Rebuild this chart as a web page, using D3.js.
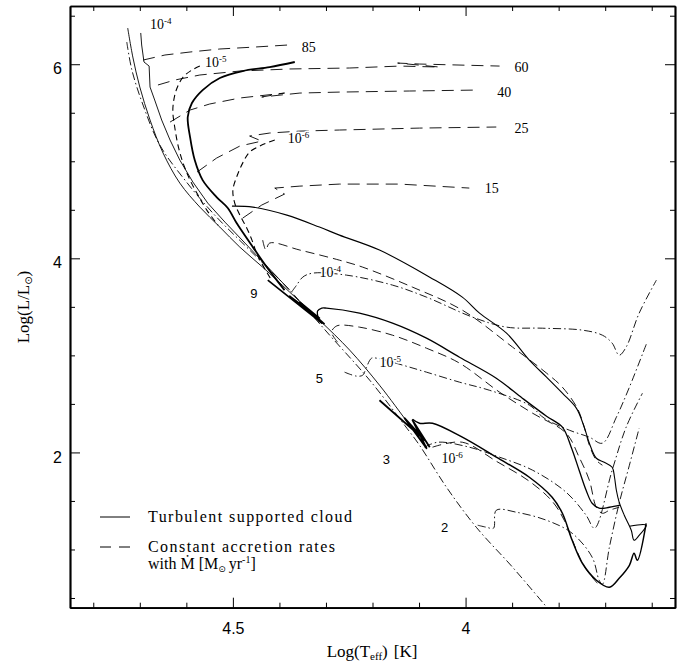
<!DOCTYPE html>
<html>
<head>
<meta charset="utf-8">
<script src="https://cdn.jsdelivr.net/npm/d3@7"></script>
<style>
  body { margin: 0; background: #fff; }
  text { fill: #000; }
</style>
</head>
<body>
<script>
// Values: [log Teff, log L/Lsun]

// ZAMS bundle and birthline-ish envelopes
const zams = [[4.726,6.373],[4.715,6.074],[4.700,5.765],[4.678,5.425],[4.650,5.085],[4.614,4.775],[4.571,4.528],[4.528,4.322],[4.485,4.115],[4.436,3.909],[4.378,3.652],[4.314,3.363],[4.249,3.054],[4.185,2.693],[4.120,2.280],[4.084,2.054]];
const birthline4 = [[4.698,6.322],[4.696,6.198],[4.691,6.023],[4.680,5.981],[4.678,5.765],[4.668,5.631],[4.653,5.425],[4.635,5.219],[4.614,5.012],[4.586,4.786],[4.554,4.569],[4.517,4.373],[4.474,4.157],[4.425,3.909],[4.378,3.672]];
const zamsLow = [[4.728,6.229],[4.717,5.940],[4.693,5.579],[4.657,5.167],[4.603,4.806],[4.539,4.445],[4.464,4.085],[4.378,3.672],[4.292,3.208],[4.206,2.744],[4.131,2.280],[4.099,2.074],[4.041,1.641],[3.977,1.229],[3.899,0.817],[3.820,0.373]];

// turbulent supported cloud tracks (solid)
const turb1 = [[4.367,6.023],[4.421,5.971],[4.479,5.930],[4.528,5.858],[4.565,5.734],[4.588,5.600],[4.597,5.456],[4.592,5.249],[4.582,5.012],[4.565,4.806],[4.535,4.631],[4.511,4.518],[4.492,4.363],[4.457,4.115],[4.427,3.909],[4.389,3.672]];
const turb2 = [[4.502,4.538],[4.457,4.528],[4.384,4.445],[4.314,4.322],[4.271,4.239],[4.185,4.085],[4.077,3.806],[4.007,3.600],[3.970,3.435],[3.912,3.229],[3.863,2.951],[3.826,2.775],[3.792,2.610],[3.762,2.456],[3.745,2.260],[3.734,2.095],[3.719,1.940],[3.702,1.899],[3.685,1.847],[3.680,1.744],[3.676,1.610],[3.670,1.487],[3.659,1.353],[3.644,1.198],[3.638,1.095],[3.627,1.146],[3.612,1.250],[3.648,1.239]];
const turb3 = [[4.314,3.342],[4.318,3.456],[4.309,3.487],[4.299,3.487],[4.228,3.435],[4.157,3.332],[4.084,3.177],[4.013,2.981],[3.934,2.765],[3.878,2.559],[3.826,2.373],[3.792,2.260],[3.773,2.054],[3.756,1.817],[3.741,1.610],[3.728,1.476],[3.713,1.425],[3.691,1.435],[3.668,1.456]];
const turb4 = [[4.114,2.342],[4.099,2.301],[4.071,2.301],[4.007,2.157],[3.934,1.951],[3.863,1.744],[3.814,1.538],[3.792,1.373],[3.771,1.095],[3.749,0.858],[3.719,0.683],[3.691,0.610],[3.670,0.703],[3.648,0.837],[3.638,0.961],[3.631,0.889],[3.612,1.270]];
const zig9 = [[4.425,3.775],[4.309,3.332],[4.378,3.610],[4.314,3.384],[4.356,3.548],[4.303,3.322]];
const zig3 = [[4.185,2.538],[4.088,2.126],[4.131,2.353],[4.084,2.043],[4.114,2.332],[4.077,2.054]];

// massive star tracks (long dashes)
const m85 = [[4.693,6.043],[4.646,6.095],[4.592,6.126],[4.528,6.157],[4.453,6.177],[4.382,6.198]];
const m60 = [[4.661,5.786],[4.625,5.837],[4.571,5.889],[4.485,5.930],[4.378,5.951],[4.249,5.961],[4.142,5.981],[4.056,5.971],[4.146,6.012],[4.099,6.002],[3.927,5.981]];
const m40 = [[4.635,5.404],[4.592,5.528],[4.550,5.590],[4.485,5.652],[4.389,5.703],[4.438,5.662],[4.356,5.703],[4.271,5.713],[4.120,5.724],[3.974,5.734]];
const m25 = [[4.577,4.889],[4.535,5.033],[4.485,5.157],[4.438,5.208],[4.464,5.260],[4.421,5.291],[4.356,5.311],[4.271,5.322],[4.099,5.342],[3.934,5.353]];
const m15 = [[4.479,4.414],[4.438,4.549],[4.389,4.662],[4.410,4.724],[4.356,4.744],[4.271,4.765],[4.142,4.765],[3.992,4.724]];

// constant accretion birthlines (short dashes)
const birth5 = [[4.571,5.981],[4.588,5.940],[4.607,5.868],[4.620,5.755],[4.627,5.631],[4.629,5.507],[4.625,5.353],[4.618,5.167],[4.607,4.981],[4.592,4.806],[4.575,4.652],[4.556,4.497],[4.532,4.342]];
const birth6 = [[4.410,5.219],[4.438,5.167],[4.464,5.095],[4.479,4.981],[4.492,4.837],[4.500,4.703],[4.496,4.569],[4.485,4.445],[4.470,4.311],[4.459,4.188],[4.449,4.054],[4.436,3.930],[4.417,3.775]];

// intermediate mass tracks (dashed)
const dash9 = [[4.436,4.188],[4.429,4.085],[4.421,4.157],[4.356,4.085],[4.271,3.981],[4.221,3.909],[4.114,3.703],[4.007,3.466],[3.899,3.085],[3.826,2.817],[3.792,2.672],[3.760,2.456],[3.745,2.260],[3.734,2.074],[3.719,1.920],[3.706,1.868]];
const dash5 = [[4.275,3.136],[4.288,3.239],[4.281,3.291],[4.271,3.311],[4.228,3.291],[4.157,3.208],[4.084,3.074],[4.013,2.920],[3.927,2.621],[3.856,2.404],[3.784,2.198],[3.756,1.951],[3.734,1.713],[3.719,1.435],[3.706,1.373],[3.691,1.404],[3.670,1.435]];
const dash3 = [[4.071,2.054],[4.007,2.105],[3.934,1.909],[3.863,1.703],[3.814,1.497],[3.788,1.301],[3.766,1.043],[3.745,0.827],[3.717,0.652]];

// dash-dot tracks
const dotted4 = [[4.374,3.652],[4.363,3.724],[4.350,3.806],[4.329,3.847],[4.256,3.827],[4.157,3.724],[4.084,3.600],[3.985,3.394],[3.912,3.291],[3.835,3.280],[3.749,3.260],[3.706,3.208],[3.685,3.126],[3.670,3.002],[3.655,3.085],[3.627,3.435],[3.590,3.775]];
const dotted5 = [[4.260,2.827],[4.234,2.786],[4.221,2.796],[4.213,2.878],[4.202,2.971],[4.191,2.971],[4.135,2.899],[4.084,2.827],[4.013,2.724],[3.949,2.641],[3.863,2.487],[3.831,2.353],[3.777,2.229],[3.734,2.157],[3.706,2.095],[3.676,2.363],[3.648,2.672],[3.610,3.136]];
const dotted6 = [[4.088,2.054],[4.060,2.105],[3.992,2.054],[3.927,1.951],[3.856,1.817],[3.784,1.590],[3.741,1.353],[3.723,1.219],[3.685,1.817],[3.655,2.260],[3.620,2.610]];
const dotted2 = [[3.974,1.250],[3.955,1.229],[3.940,1.219],[3.934,1.404],[3.891,1.384],[3.826,1.301],[3.771,1.167],[3.728,0.920],[3.713,0.683],[3.706,0.641],[3.691,1.023],[3.670,1.476],[3.648,1.868],[3.627,2.250]];

// labels: text, log Teff, log L
const massLabels = [["85",4.352,6.126],["60",3.895,5.920],["40",3.932,5.662],["25",3.895,5.291],["15",3.959,4.672]];
const lowMassLabels = [["9",4.455,3.590],["5",4.314,2.713],["3",4.170,1.878],["2",4.045,1.177]];
const rateLabels = [["-4",4.678,6.363],["-5",4.560,5.971],["-6",4.382,5.188],["-4",4.314,3.806],["-5",4.185,2.878],["-6",4.052,1.889]];

// ticks
const xMajorTicks = [4.5, 4.0];
const xMinorTicks = [4.8, 4.7, 4.6, 4.4, 4.3, 4.2, 4.1, 3.9, 3.8, 3.7, 3.6];
const yMajorTicks = [2, 4, 6];
const yMinorTicks = [0.5, 1, 1.5, 2.5, 3, 3.5, 4.5, 5, 5.5, 6.5];

const W = 677, H = 664;
const x = d3.scaleLinear().domain([4.85, 3.55]).range([70, 675]);
const y = d3.scaleLinear().domain([0.4, 6.6]).range([607.7, 6]);

const svg = d3.select("body").append("svg")
    .attr("width", W).attr("height", H)
    .style("font-family", "'Liberation Serif', serif");

svg.append("defs").append("clipPath").attr("id", "plot")
  .append("rect")
    .attr("x", x.range()[0]).attr("y", y.range()[1])
    .attr("width", x.range()[1] - x.range()[0])
    .attr("height", y.range()[0] - y.range()[1]);

const straight = d3.line().x(d => x(d[0])).y(d => y(d[1]));
const smooth = d3.line().curve(d3.curveCatmullRom.alpha(0.5)).x(d => x(d[0])).y(d => y(d[1]));

const DASH = { long: "12,7", mid: "9,5", short: "6,4", dashdot: "8,3,1.5,3" };

const tracks = [
  { pts: zams, w: 0.9, c: smooth },
  { pts: birthline4, w: 0.9, c: straight },
  { pts: zamsLow, w: 0.9, c: smooth, dash: DASH.dashdot },
  { pts: m85, w: 0.9, c: straight, dash: DASH.long },
  { pts: m60, w: 0.9, c: straight, dash: DASH.long },
  { pts: m40, w: 0.9, c: straight, dash: DASH.long },
  { pts: m25, w: 0.9, c: straight, dash: DASH.long },
  { pts: m15, w: 0.9, c: straight, dash: DASH.long },
  { pts: birth5, w: 1.1, c: smooth, dash: DASH.short },
  { pts: birth6, w: 1.1, c: smooth, dash: DASH.short },
  { pts: dash9, w: 0.9, c: smooth, dash: DASH.mid },
  { pts: dash5, w: 0.9, c: smooth, dash: DASH.mid },
  { pts: dash3, w: 0.9, c: smooth, dash: DASH.mid },
  { pts: dotted4, w: 0.9, c: smooth, dash: DASH.dashdot },
  { pts: dotted5, w: 0.9, c: smooth, dash: DASH.dashdot },
  { pts: dotted6, w: 0.9, c: smooth, dash: DASH.dashdot },
  { pts: dotted2, w: 0.9, c: smooth, dash: DASH.dashdot },
  { pts: turb1, w: 1.8, c: smooth },
  { pts: turb2, w: 1.1, c: smooth },
  { pts: turb3, w: 1.3, c: smooth },
  { pts: turb4, w: 1.5, c: smooth },
  { pts: zig9, w: 1.7, c: straight },
  { pts: zig3, w: 1.8, c: straight }
];

const plot = svg.append("g").attr("clip-path", "url(#plot)");
plot.selectAll("path.track")
  .data(tracks)
  .join("path")
    .attr("class", "track")
    .attr("d", d => d.c(d.pts))
    .attr("fill", "none")
    .attr("stroke", "#000")
    .attr("stroke-width", d => d.w)
    .attr("stroke-linejoin", "round")
    .attr("stroke-dasharray", d => d.dash || null);

// labels with a white halo
function halo(sel) {
  sel.attr("stroke", "#fff").attr("stroke-width", 3)
     .attr("paint-order", "stroke").attr("stroke-linejoin", "round");
}

svg.selectAll("text.mass")
  .data(massLabels)
  .join("text")
    .attr("class", "mass")
    .attr("x", d => x(d[1])).attr("y", d => y(d[2]))
    .attr("font-size", 14)
    .text(d => d[0])
    .call(halo);

svg.selectAll("text.lowmass")
  .data(lowMassLabels)
  .join("text")
    .attr("class", "lowmass")
    .attr("x", d => x(d[1])).attr("y", d => y(d[2]))
    .attr("text-anchor", "middle")
    .attr("font-family", "'Liberation Sans', sans-serif")
    .attr("font-size", 13)
    .text(d => d[0])
    .call(halo);

const rl = svg.selectAll("text.rate")
  .data(rateLabels)
  .join("text")
    .attr("class", "rate")
    .attr("x", d => x(d[1])).attr("y", d => y(d[2]))
    .attr("font-size", 14)
    .call(halo);
rl.append("tspan").text("10");
rl.append("tspan").attr("font-size", 9).attr("dy", -5).text(d => d[0]);

// axes: ticks point inward, the domain lines make the frame
const fmt = d => String(d);
const yBottom = y.range()[0], yTop = y.range()[1], xLeft = x.range()[0], xRight = x.range()[1];

svg.append("g").attr("transform", `translate(0,${yBottom})`)
  .call(d3.axisBottom(x).tickValues(xMinorTicks).tickSize(-5).tickSizeOuter(0).tickFormat(""));
svg.append("g").attr("transform", `translate(0,${yBottom})`)
  .call(d3.axisBottom(x).tickValues(xMajorTicks).tickSize(-10).tickSizeOuter(0).tickPadding(15).tickFormat(fmt));
svg.append("g").attr("transform", `translate(0,${yTop})`)
  .call(d3.axisTop(x).tickValues(xMinorTicks).tickSize(-5).tickSizeOuter(0).tickFormat(""));
svg.append("g").attr("transform", `translate(0,${yTop})`)
  .call(d3.axisTop(x).tickValues(xMajorTicks).tickSize(-10).tickSizeOuter(0).tickFormat(""));
svg.append("g").attr("transform", `translate(${xLeft},0)`)
  .call(d3.axisLeft(y).tickValues(yMinorTicks).tickSize(-5).tickSizeOuter(0).tickFormat(""));
const gLeft = svg.append("g").attr("transform", `translate(${xLeft},0)`)
  .call(d3.axisLeft(y).tickValues(yMajorTicks).tickSize(-10).tickSizeOuter(0).tickPadding(8).tickFormat(fmt));
svg.append("g").attr("transform", `translate(${xRight},0)`)
  .call(d3.axisRight(y).tickValues(yMinorTicks).tickSize(-5).tickSizeOuter(0).tickFormat(""));
svg.append("g").attr("transform", `translate(${xRight},0)`)
  .call(d3.axisRight(y).tickValues(yMajorTicks).tickSize(-10).tickSizeOuter(0).tickFormat(""));

svg.selectAll(".domain").attr("stroke", "#000").attr("stroke-width", 1.7);
svg.selectAll(".tick line").attr("stroke", "#000").attr("stroke-width", 1);
svg.selectAll(".tick text")
  .attr("font-family", "'Liberation Sans', sans-serif")
  .attr("font-size", 16)
  .attr("fill", "#000");
gLeft.selectAll(".tick text").attr("dy", "0.6em");

// axis titles
const xt = svg.append("text")
  .attr("x", 372).attr("y", 657)
  .attr("text-anchor", "middle")
  .attr("font-size", 17);
xt.append("tspan").text("Log(T");
xt.append("tspan").attr("font-size", 11).attr("dy", 3).text("eff");
xt.append("tspan").attr("dy", -3).text(")");
xt.append("tspan").attr("dx", 6).text("[K]");

const yt = svg.append("text")
  .attr("transform", "translate(29,307) rotate(-90)")
  .attr("text-anchor", "middle")
  .attr("font-size", 17);
yt.append("tspan").text("Log(L/L");
yt.append("tspan").attr("font-size", 10).attr("dy", 3)
  .attr("font-family", "'DejaVu Sans', sans-serif").text("\u2299");
yt.append("tspan").attr("dy", -3).text(")");

// legend
const leg = svg.append("g");
leg.append("line").attr("x1", 100).attr("x2", 130).attr("y1", 517).attr("y2", 517)
  .attr("stroke", "#000").attr("stroke-width", 1);
leg.append("line").attr("x1", 100).attr("x2", 130).attr("y1", 547).attr("y2", 547)
  .attr("stroke", "#000").attr("stroke-width", 1).attr("stroke-dasharray", "11,8");
leg.append("text").attr("x", 148).attr("y", 522).attr("font-size", 16)
  .attr("textLength", 204).attr("lengthAdjust", "spacing")
  .text("Turbulent supported cloud");
leg.append("text").attr("x", 148).attr("y", 552).attr("font-size", 16)
  .attr("textLength", 187).attr("lengthAdjust", "spacing")
  .text("Constant accretion rates");
const l3 = leg.append("text").attr("x", 148).attr("y", 569).attr("font-size", 16);
l3.append("tspan").text("with \u1E40 [M");
l3.append("tspan").attr("font-size", 9).attr("dy", 3)
  .attr("font-family", "'DejaVu Sans', sans-serif").text("\u2299");
l3.append("tspan").attr("dy", -3).attr("dx", 3).text("yr");
l3.append("tspan").attr("font-size", 10).attr("dy", -6).text("-1");
l3.append("tspan").attr("dy", 6).text("]");
</script>
</body>
</html>
